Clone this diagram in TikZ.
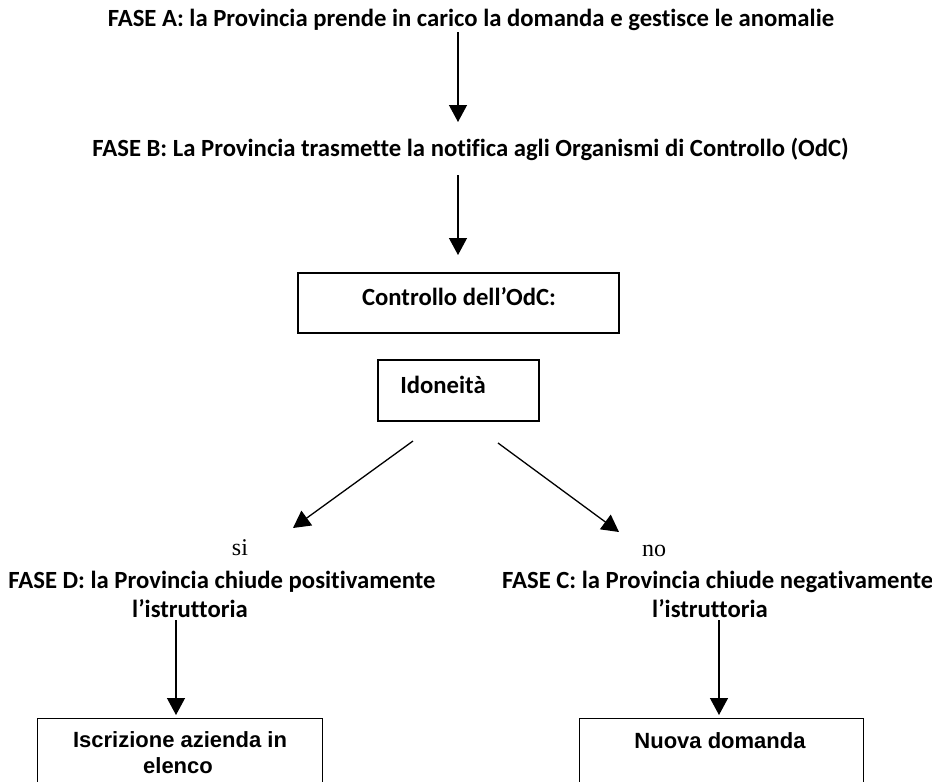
\documentclass[tikz,border=0pt]{standalone}
\usepackage{fontspec}
\setmainfont{Carlito}[Ligatures={NoCommon}]
\newfontfamily\arialf{Liberation Sans}
\newfontfamily\timesf{Liberation Serif}
\usetikzlibrary{arrows.meta}
\begin{document}
\begin{tikzpicture}[x=1pt,y=-1pt,
  lbl/.style={font=\bfseries\fontsize{24.7}{28}\selectfont, inner sep=0pt, anchor=base},
  btxt/.style={font=\arialf\bfseries\fontsize{22}{26}\selectfont, inner sep=0pt, anchor=base},
  ans/.style={font=\timesf\fontsize{24}{28}\selectfont, inner sep=0pt, anchor=base},
  boxs/.style={draw, line width=1.3pt, inner sep=0pt},
  arr/.style={line width=1.3pt, -{Triangle[length=17pt,width=18pt]}}
]
\useasboundingbox (0,0) rectangle (932,782);
\clip (0,0) rectangle (932,782);

\node[lbl] (fa) at (471,26) {FASE A: la Provincia prende in carico la domanda e gestisce le anomalie};
\node[lbl] (fb) at (470.5,156) {FASE B: La Provincia trasmette la notifica agli Organismi di Controllo (OdC)};

\node[boxs, minimum width=321pt, minimum height=60pt] (ctrl) at (458.5,303) {};
\node[lbl] (ctrlt) at (459,305) {Controllo dell’OdC:};
\node[boxs, minimum width=161pt, minimum height=61pt] (ido) at (458.5,390.5) {};
\node[lbl] (idot) at (443,393) {Idoneità};

\node[ans] (si) at (240,555) {si};
\node[ans] (no) at (654,556) {no};

\node[lbl] (fd) at (222,588) {FASE D: la Provincia chiude positivamente};
\node[lbl] (fd2) at (190,617) {l’istruttoria};
\node[lbl, anchor=base west] (fc) at (502,588) {FASE C: la Provincia chiude negativamente};
\node[lbl] (fc2) at (710,617) {l’istruttoria};

\node[boxs, minimum width=285pt, minimum height=100pt, anchor=north west] (isc) at (37,718) {};
\node[btxt] (isct1) at (180,747) {Iscrizione azienda in};
\node[btxt] (isct2) at (178,773) {elenco};
\node[boxs, minimum width=284pt, minimum height=100pt, anchor=north west] (nd) at (579,718) {};
\node[btxt] (ndt) at (720,748) {Nuova domanda};

\coordinate (a1) at (458,32);  \coordinate (a2) at (458,122);
\coordinate (b1) at (458,175); \coordinate (b2) at (458,255);
\coordinate (l1) at (413,441); \coordinate (l2) at (293,528);
\coordinate (r1) at (498,443); \coordinate (r2) at (619,532);
\coordinate (d1) at (176,620); \coordinate (d2) at (176,715);
\coordinate (c1) at (719,620); \coordinate (c2) at (719,715);

\draw[arr] (a1) -- (a2);
\draw[arr] (b1) -- (b2);
\draw[arr] (l1) -- (l2);
\draw[arr] (r1) -- (r2);
\draw[arr] (d1) -- (d2);
\draw[arr] (c1) -- (c2);
\end{tikzpicture}
\end{document}
